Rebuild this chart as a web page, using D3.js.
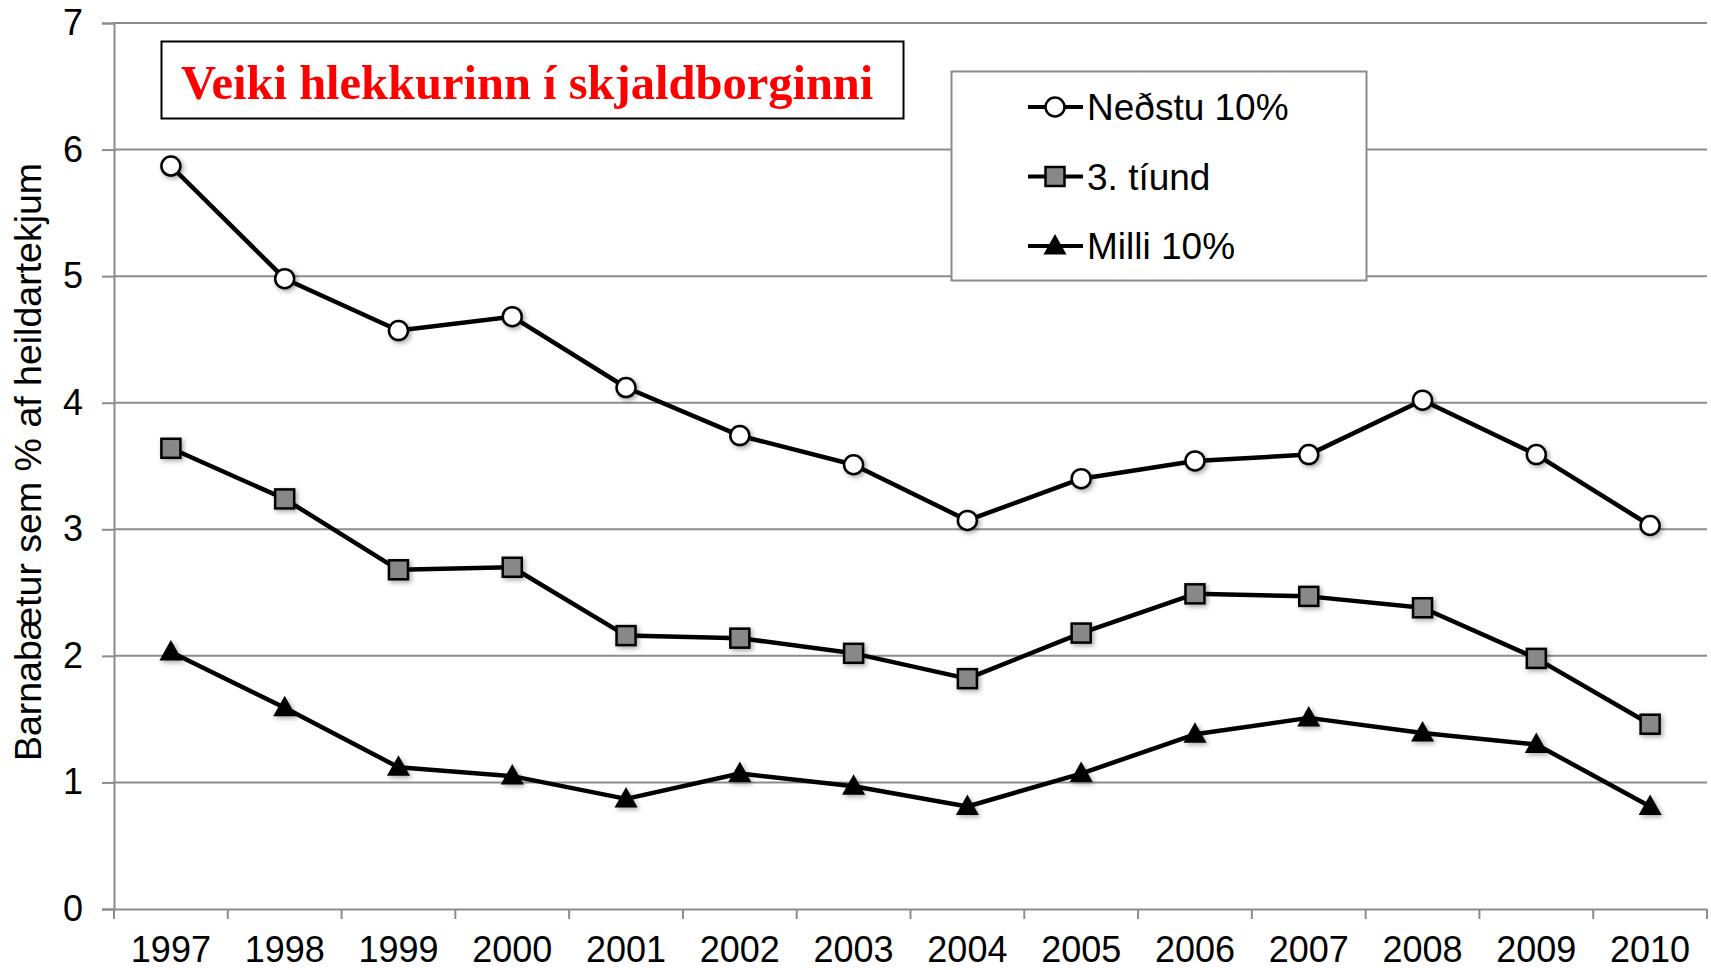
<!DOCTYPE html>
<html>
<head>
<meta charset="utf-8">
<script src="https://cdn.jsdelivr.net/npm/d3@7"></script>
<style>
  body { margin: 0; background: #fff; }
  svg { display: block; }
</style>
</head>
<body>
<div id="chart"></div>
<script>
// Data
const years = ["1997", "1998", "1999", "2000", "2001", "2002", "2003", "2004", "2005", "2006", "2007", "2008", "2009", "2010"];
const nedstu = [5.87, 4.98, 4.57, 4.68, 4.12, 3.74, 3.51, 3.07, 3.40, 3.54, 3.59, 4.02, 3.59, 3.03];
const tiund = [3.64, 3.24, 2.68, 2.70, 2.16, 2.14, 2.02, 1.82, 2.18, 2.49, 2.47, 2.38, 1.98, 1.46];
const milli = [2.03, 1.59, 1.12, 1.05, 0.87, 1.07, 0.97, 0.81, 1.07, 1.38, 1.51, 1.39, 1.30, 0.81];
const yTicks = [0, 1, 2, 3, 4, 5, 6, 7];
const seriesNames = ["Neðstu 10%", "3. tíund", "Milli 10%"];
const titleText = "Veiki hlekkurinn í skjaldborginni";
const yTitle = "Barnabætur sem % af heildartekjum";

const width = 1711;
const height = 970;
const margin = { top: 23, right: 4, bottom: 61, left: 114 };

const svg = d3.select("#chart")
    .append("svg")
    .attr("width", width)
    .attr("height", height);

// soft shadow under markers
const defs = svg.append("defs");
defs.append("filter")
    .attr("id", "shadow")
    .attr("x", "-50%").attr("y", "-50%")
    .attr("width", "200%").attr("height", "200%")
    .append("feDropShadow")
    .attr("dx", 2).attr("dy", 2)
    .attr("stdDeviation", 2.5)
    .attr("flood-color", "#000")
    .attr("flood-opacity", 0.35);

// Scales
const xScale = d3.scaleBand()
    .domain(years)
    .range([margin.left, width - margin.right]);

const yScale = d3.scaleLinear()
    .domain([0, 7])
    .range([height - margin.bottom, margin.top]);

const gray = "#8c8c8c";

// Gridlines
svg.append("g")
    .selectAll("line")
    .data(yTicks.slice(1))
    .join("line")
    .attr("x1", margin.left)
    .attr("x2", width - margin.right)
    .attr("y1", d => yScale(d))
    .attr("y2", d => yScale(d))
    .attr("stroke", gray)
    .attr("stroke-width", 2);

// Axes
const yAxis = svg.append("g")
    .attr("transform", `translate(${margin.left},0)`)
    .call(d3.axisLeft(yScale).tickValues(yTicks).tickSize(12).tickPadding(19).tickFormat(d3.format("d")));
yAxis.select(".domain").attr("stroke", gray).attr("stroke-width", 2);
yAxis.selectAll(".tick line").attr("stroke", gray).attr("stroke-width", 2);
yAxis.selectAll("text")
    .attr("font-family", "Liberation Sans, Arial, sans-serif")
    .attr("font-size", 36)
    .attr("fill", "#000");

const xAxis = svg.append("g")
    .attr("transform", `translate(0,${height - margin.bottom})`)
    .call(d3.axisBottom(xScale).tickSize(0).tickPadding(27));
xAxis.select(".domain").attr("stroke", gray).attr("stroke-width", 2);
xAxis.selectAll("text")
    .attr("font-family", "Liberation Sans, Arial, sans-serif")
    .attr("font-size", 36)
    .attr("fill", "#000");

// category boundary ticks
const bounds = years.map(d => xScale(d)).concat([xScale(years[years.length - 1]) + xScale.bandwidth()]);
svg.append("g")
    .selectAll("line")
    .data(bounds)
    .join("line")
    .attr("x1", d => d)
    .attr("x2", d => d)
    .attr("y1", yScale(0))
    .attr("y2", yScale(0) + 10)
    .attr("stroke", gray)
    .attr("stroke-width", 2);

// Y title
svg.append("text")
    .attr("transform", `translate(41,${(yScale(0) + yScale(7)) / 2 - 4}) rotate(-90)`)
    .attr("text-anchor", "middle")
    .attr("font-family", "Liberation Sans, Arial, sans-serif")
    .attr("font-size", 37.5)
    .attr("fill", "#000")
    .text(yTitle);

// Lines and markers
const series = [
    { name: seriesNames[0], values: nedstu, shape: "circle" },
    { name: seriesNames[1], values: tiund, shape: "square" },
    { name: seriesNames[2], values: milli, shape: "triangle" }
];

const line = d3.line()
    .x((d, i) => xScale(years[i]) + xScale.bandwidth() / 2)
    .y(d => yScale(d));

function drawMarker(g, shape, x, y) {
    if (shape === "circle") {
        g.append("circle")
            .attr("cx", x).attr("cy", y).attr("r", 9.5)
            .attr("fill", "#fff").attr("stroke", "#000").attr("stroke-width", 2.5);
    } else if (shape === "square") {
        g.append("rect")
            .attr("x", x - 9.5).attr("y", y - 9.5)
            .attr("width", 19).attr("height", 19)
            .attr("fill", "#888").attr("stroke", "#000").attr("stroke-width", 2.5);
    } else {
        g.append("path")
            .attr("d", `M${x},${y - 12}L${x + 11.5},${y + 8.5}L${x - 11.5},${y + 8.5}Z`)
            .attr("fill", "#000");
    }
}

series.forEach(s => {
    svg.append("path")
        .datum(s.values)
        .attr("fill", "none")
        .attr("stroke", "#000")
        .attr("stroke-width", 4.5)
        .attr("stroke-linejoin", "round")
        .attr("d", line);

    const mg = svg.append("g").attr("filter", "url(#shadow)");
    s.values.forEach((v, i) => {
        drawMarker(mg, s.shape, xScale(years[i]) + xScale.bandwidth() / 2, yScale(v));
    });
});

// Title box
svg.append("rect")
    .attr("x", 161.5).attr("y", 41.5)
    .attr("width", 742).attr("height", 77)
    .attr("fill", "#fff")
    .attr("stroke", "#000")
    .attr("stroke-width", 2);

svg.append("text")
    .attr("x", 181)
    .attr("y", 99)
    .attr("font-family", "Liberation Serif, 'Times New Roman', serif")
    .attr("font-weight", "bold")
    .attr("font-size", 48.5)
    .attr("fill", "#ff0000")
    .text(titleText);

// Legend
const legend = svg.append("g");
legend.append("rect")
    .attr("x", 951.5).attr("y", 71.5)
    .attr("width", 415).attr("height", 209)
    .attr("fill", "#fff")
    .attr("stroke", gray)
    .attr("stroke-width", 2);

const legendY = [107, 176.5, 246];
series.forEach((s, i) => {
    const y = legendY[i];
    legend.append("line")
        .attr("x1", 1028).attr("x2", 1083)
        .attr("y1", y).attr("y2", y)
        .attr("stroke", "#000").attr("stroke-width", 4);
    drawMarker(legend, s.shape, 1055, y);
    legend.append("text")
        .attr("x", 1087)
        .attr("y", y + 13)
        .attr("font-family", "Liberation Sans, Arial, sans-serif")
        .attr("font-size", 37)
        .attr("fill", "#000")
        .text(s.name);
});
</script>
</body>
</html>
